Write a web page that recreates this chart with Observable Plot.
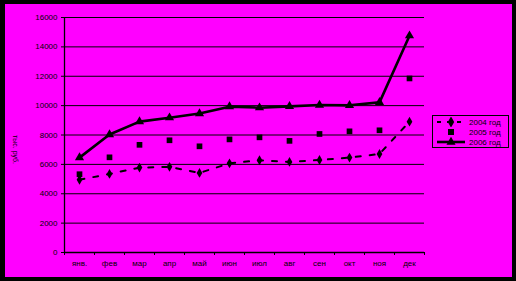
<!DOCTYPE html>
<html>
<head>
<meta charset="utf-8">
<script src="https://cdn.jsdelivr.net/npm/d3@7"></script>
<script src="https://cdn.jsdelivr.net/npm/@observablehq/plot@0.6"></script>
<style>
  html, body { margin: 0; padding: 0; background: #000; }
  #wrap { position: relative; width: 516px; height: 281px; background: #000; overflow: hidden; }
  #panel { position: absolute; left: 5px; top: 4px; width: 507px; height: 273px; background: #ff00ff; }
  #chart { position: absolute; left: 0; top: 0; }
  #legend { position: absolute; left: 432px; top: 115px; width: 75px; height: 31px; border: 1px solid #000;
            font: 8px "Liberation Sans", sans-serif; color: #000; }
  #legend .row { position: absolute; left: 3px; height: 10px; display: flex; align-items: center; }
  #legend svg { display: block; }
  #legend span { margin-left: 3px; }
</style>
</head>
<body>
<div id="wrap"><div id="panel"></div><div id="chart"></div><div id="legend"></div></div>
<script>
const months = ["янв.", "фев", "мар", "апр", "май", "июн", "июл", "авг", "сен", "окт", "ноя", "дек"];
const series = ["2004 год", "2005 год", "2006 год"];
const v2004 = [4950, 5350, 5780, 5830, 5420, 6070, 6280, 6170, 6300, 6460, 6710, 8910];
const v2005 = [5330, 6480, 7330, 7640, 7230, 7700, 7840, 7600, 8070, 8250, 8320, 11850];
const v2006 = [6460, 8030, 8910, 9180, 9460, 9930, 9860, 9950, 10040, 10020, 10220, 14760];
const yTicks = [0, 2000, 4000, 6000, 8000, 10000, 12000, 14000, 16000];
const yLabel = "тыс. руб.";

const rows = (vals) => months.map((m, i) => ({month: m, value: vals[i]}));
const d2004 = rows(v2004), d2005 = rows(v2005), d2006 = rows(v2006);

const chart = Plot.plot({
  width: 516,
  height: 281,
  marginLeft: 64,
  marginRight: 92,
  marginTop: 17,
  marginBottom: 29,
  style: {background: "transparent", fontFamily: "Liberation Sans, sans-serif", fontSize: "8px", color: "#000"},
  x: {type: "point", domain: months, padding: 0.5, tickSize: 0, tickPadding: 8, label: null},
  y: {domain: [0, 16000], ticks: yTicks, tickSize: 3, tickPadding: 4, tickFormat: d => String(d), label: null},
  marks: [
    Plot.ruleY(yTicks, {stroke: "#000", strokeWidth: 1}),
    Plot.ruleX([months[0]], {dx: -15, y1: 0, y2: 16000, stroke: "#000", strokeWidth: 1.3}),
    Plot.ruleX(months, {dx: -15, y1: -200, y2: 0, stroke: "#000"}),
    Plot.ruleX([months[months.length - 1]], {dx: 15, y1: -200, y2: 0, stroke: "#000"}),
    Plot.ruleY([0], {stroke: "#000", strokeWidth: 1.5}),
    Plot.line(d2004, {x: "month", y: "value", stroke: "#000", strokeWidth: 2, strokeDasharray: "5,9"}),
    Plot.dot(d2004, {x: "month", y: "value", symbol: "diamond", r: 3, fill: "#000", stroke: "none"}),
    Plot.dot(d2005, {x: "month", y: "value", symbol: "square", r: 3.2, fill: "#000", stroke: "none"}),
    Plot.line(d2006, {x: "month", y: "value", stroke: "#000", strokeWidth: 2.6}),
    Plot.dot(d2006, {x: "month", y: "value", symbol: "triangle", r: 3.4, fill: "#000", stroke: "none"}),
    Plot.text([yLabel], {frameAnchor: "left", dx: -49, rotate: 90, fontSize: 7, fill: "#000"})
  ]
});
document.getElementById("chart").appendChild(chart);

// legend
const legend = document.getElementById("legend");
const ns = "http://www.w3.org/2000/svg";
const styles = [
  {dash: "5,9", line: true, symbol: d3.symbolDiamond, w: 2},
  {dash: null, line: false, symbol: d3.symbolSquare, w: 2},
  {dash: null, line: true, symbol: d3.symbolTriangle, w: 2.6}
];
series.forEach((name, i) => {
  const row = document.createElement("div");
  row.className = "row";
  row.style.top = (1 + i * 10) + "px";
  const svg = document.createElementNS(ns, "svg");
  svg.setAttribute("width", 30);
  svg.setAttribute("height", 10);
  if (styles[i].line) {
    const l = document.createElementNS(ns, "line");
    l.setAttribute("x1", 1); l.setAttribute("x2", 29);
    l.setAttribute("y1", 5); l.setAttribute("y2", 5);
    l.setAttribute("stroke", "#000"); l.setAttribute("stroke-width", styles[i].w);
    if (styles[i].dash) l.setAttribute("stroke-dasharray", "4,6");
    svg.appendChild(l);
  }
  const p = document.createElementNS(ns, "path");
  p.setAttribute("d", d3.symbol(styles[i].symbol, 36)());
  p.setAttribute("transform", "translate(15,5)");
  p.setAttribute("fill", "#000");
  svg.appendChild(p);
  row.appendChild(svg);
  const s = document.createElement("span");
  s.textContent = name;
  row.appendChild(s);
  legend.appendChild(row);
});
</script>
</body>
</html>
